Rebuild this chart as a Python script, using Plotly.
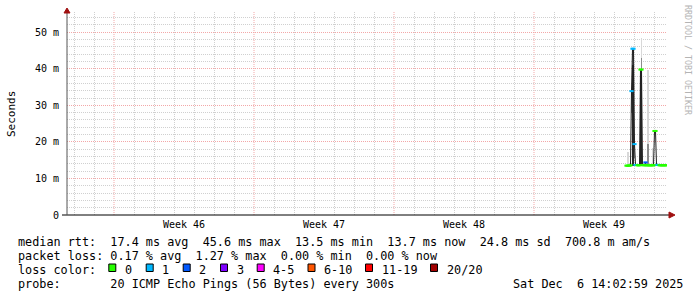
import plotly.graph_objects as go
import pandas as pd

# ---------------- data ----------------
x_start = "2025-11-06 15:36"
x_end = "2025-12-06 15:36"
stamp = "Sat Dec  6 14:02:59 2025"

bin_first = "2025-12-04 15:00"   # centre of first consolidated sample
bin_minutes = 72                  # one sample per 72 minutes

median_ms = [13.5, 13.5, 13.5, 13.5, 13.6, 33.9, 45.5, 45.5, 19.4, 13.7,
             13.7, 13.6, 13.6, 13.6, 39.8, 39.8, 13.7, 13.6, 13.6, 14.4,
             13.6, 13.6, 13.6, 13.6, 13.6, 13.6, 13.6, 13.6, 23.0, 23.0,
             13.7, 13.7, 13.7, 13.6, 13.6, 13.6, 13.6, 13.6, 13.6, 13.6,
             13.6]
lost_pings = [0, 0, 0, 0, 0, 1, 1, 1, 1, 1,
              1, 0, 0, 0, 0, 0, 0, 0, 0, 2,
              0, 0, 0, 0, 0, 0, 0, 0, 0, 0,
              0, 1, 1, 0, 0, 0, 0, 0, 0, 0,
              0]
N = None
smoke_light_lo = [N, 13.4, 13.4, N, N, N, N, N, N, N,
                  N, N, N, N, N, 13.6, N, N, N, N,
                  N, 13.6, 13.6, N, N, N, 13.6, N, N, N,
                  N, N, N, N, N, N, N, N, N, N, N]
smoke_light_hi = [N, 17.3, 17.3, N, N, N, N, N, N, N,
                  N, N, N, N, N, 48.3, N, N, N, N,
                  N, 39.6, 39.6, N, N, N, 18.3, N, N, N,
                  N, N, N, N, N, N, N, N, N, N, N]
smoke_mid_lo = [N, N, N, N, N, 28.0, 41.0, 41.0, 15.5, N,
                N, N, N, N, N, 39.8, N, N, N, N,
                N, 13.6, 13.6, N, N, N, N, N, N, N,
                N, N, N, N, N, N, N, N, N, N, N]
smoke_mid_hi = [N, N, N, N, N, 34.0, 45.5, 45.5, 19.4, N,
                N, N, N, N, N, 43.0, N, N, N, N,
                N, 19.5, 19.5, N, N, N, N, N, N, N,
                N, N, N, N, N, N, N, N, N, N, N]
smoke_core_lo = [N, N, N, N, N, N, 13.5, 13.5, N, N,
                 N, N, N, N, 13.5, 13.5, N, N, N, N,
                 N, N, N, N, N, N, N, N, N, N,
                 N, N, N, N, N, N, N, N, N, N, N]
smoke_core_hi = [N, N, N, N, N, N, 41.0, 41.0, N, N,
                 N, N, N, N, 39.8, 39.8, N, N, N, N,
                 N, N, N, N, N, N, N, N, N, N,
                 N, N, N, N, N, N, N, N, N, N, N]

week_bounds = ["2025-11-09", "2025-11-16", "2025-11-23", "2025-11-30"]
week_label_at = ["2025-11-12 12:00", "2025-11-19 12:00",
                 "2025-11-26 12:00", "2025-12-03 12:00"]
week_labels = ["Week 46", "Week 47", "Week 48", "Week 49"]

y_ticks = [0, 10, 20, 30, 40, 50]
y_ticktext = ["0", "10 m", "20 m", "30 m", "40 m", "50 m"]
y_top = 55.55

loss_labels = ["0", "1", "2", "3", "4-5", "6-10", "11-19", "20/20"]
loss_upper = [0, 1, 2, 3, 5, 10, 19, 20]
loss_colors = ["#26ff00", "#00b8ff", "#0059ff", "#7e00ff",
               "#ff00ff", "#ff5500", "#ff0000", "#a00000"]

legend_lines = [
    "median rtt:  17.4 ms avg  45.6 ms max  13.5 ms min  13.7 ms now  24.8 ms sd  700.8 m am/s",
    "packet loss: 0.17 % avg  1.27 % max  0.00 % min  0.00 % now",
    "loss color:",
    "probe:       20 ICMP Echo Pings (56 Bytes) every 300s",
]

# ---------------- geometry helpers (layout only) ----------------
W, H = 697, 297
L, R, T, B = 67, 667, 12, 215
PW, PH = R - L, B - T


def px(xp):
    return (xp - L) / PW


def py(yp):
    return (B - yp) / PH


def nb(s):
    return s.replace(" ", "\u00a0")


MONO = "DejaVu Sans Mono"
GRID_MINOR = "#d0d0d0"
GRID_MAJOR = "#f3a8a8"
DOT = "1px,1px"

times = pd.date_range(start=bin_first, periods=len(median_ms),
                      freq=f"{bin_minutes}min")
bw = bin_minutes * 60 * 1000

# minor grid positions (skip the major ones)
day_grid = [d for d in pd.date_range(x_start, x_end, freq="D").normalize()
            if d.strftime("%Y-%m-%d") not in week_bounds]
y_minor = [v for v in range(2, 56, 2) if v % 10 != 0]


def loss_color(n):
    for up, c in zip(loss_upper, loss_colors):
        if n <= up:
            return c
    return loss_colors[-1]


def band(lo, hi, color):
    xs, bs, hs = [], [], []
    for t, a, b in zip(times, lo, hi):
        if a is not None and b is not None:
            xs.append(t)
            bs.append(a)
            hs.append(b - a)
    return go.Bar(x=xs, y=hs, base=bs, width=bw, marker=dict(color=color, line=dict(width=0)),
                  hoverinfo="skip", showlegend=False)


fig = go.Figure()
fig.add_trace(band(smoke_light_lo, smoke_light_hi, "#d8d8d8"))
fig.add_trace(band(smoke_mid_lo, smoke_mid_hi, "#8c8c8c"))
fig.add_trace(band(smoke_core_lo, smoke_core_hi, "#262626"))

fig.add_trace(go.Scatter(x=times, y=median_ms, mode="lines",
                         line=dict(color="#202020", width=1),
                         hoverinfo="skip", showlegend=False))

cols = [loss_color(n) for n in lost_pings]
fig.add_trace(go.Scatter(x=times, y=median_ms, mode="markers",
                         marker=dict(symbol="line-ew", size=3,
                                     line=dict(color=cols, width=2)),
                         hoverinfo="skip", showlegend=False))

shapes = []
# weekly major grid lines (red dotted)
for wb in week_bounds:
    shapes.append(dict(type="line", xref="x", yref="paper", x0=wb, x1=wb, y0=0, y1=1,
                       line=dict(color=GRID_MAJOR, width=1, dash=DOT), layer="below"))
# axis lines and arrows
shapes.append(dict(type="line", xref="paper", yref="paper", x0=px(62), x1=px(670), y0=0, y1=0,
                   line=dict(color="#000000", width=1)))
shapes.append(dict(type="line", xref="paper", yref="paper", x0=0, x1=0, y0=0, y1=py(12),
                   line=dict(color="#555555", width=1)))
shapes.append(dict(type="path", xref="paper", yref="paper",
                   path=f"M {px(669)} {py(212)} L {px(675)} {py(215)} L {px(669)} {py(218)} Z",
                   fillcolor="#a01010", line=dict(color="#a01010", width=1)))
shapes.append(dict(type="path", xref="paper", yref="paper",
                   path=f"M {px(64)} {py(13)} L {px(67)} {py(8)} L {px(70)} {py(13)} Z",
                   fillcolor="#a01010", line=dict(color="#a01010", width=1)))

annotations = []
LEG_FONT = dict(family=MONO, size=11.8, color="#000000")
line_y = [241.5, 255.5, 269.5, 283.5]
for txt, yy in zip(legend_lines, line_y):
    annotations.append(dict(text=nb(txt), xref="paper", yref="paper", x=px(16), y=py(yy),
                            xanchor="left", yanchor="middle", showarrow=False, font=LEG_FONT))
annotations.append(dict(text=nb(stamp), xref="paper", yref="paper", x=px(685), y=py(283.5),
                        xanchor="right", yanchor="middle", showarrow=False, font=LEG_FONT))

box_left = [108.3, 145.7, 182.7, 220.0, 256.7, 307.5, 365.0, 430.0]
for bl, lab, col in zip(box_left, loss_labels, loss_colors):
    shapes.append(dict(type="rect", xref="paper", yref="paper",
                       x0=px(bl + 0.5), x1=px(bl + 7.5), y0=py(271.5), y1=py(264),
                       fillcolor=col, line=dict(color="#000000", width=1)))
    annotations.append(dict(text=nb(lab), xref="paper", yref="paper", x=px(bl + 14.5), y=py(269.5),
                            xanchor="left", yanchor="middle", showarrow=False, font=LEG_FONT))

annotations.append(dict(text="Seconds", xref="paper", yref="paper", x=px(11), y=py(114),
                        textangle=-90, xanchor="center", yanchor="middle", showarrow=False,
                        font=dict(family=MONO, size=11, color="#000000")))
annotations.append(dict(text=nb("RRDTOOL / TOBI OETIKER"), xref="paper", yref="paper",
                        x=px(688), y=py(60), textangle=90, xanchor="center", yanchor="middle",
                        showarrow=False, font=dict(family=MONO, size=8.3, color="#b4b4b4")))

fig.update_layout(
    width=W, height=H,
    margin=dict(l=L, r=W - R, t=T, b=H - B, pad=0),
    paper_bgcolor="#ffffff", plot_bgcolor="#ffffff",
    barmode="overlay", bargap=0,
    showlegend=False,
    shapes=shapes, annotations=annotations,
    xaxis=dict(type="date", range=[x_start, x_end], fixedrange=True,
               tickmode="array", tickvals=week_label_at, ticktext=week_labels,
               ticks="", showgrid=False, zeroline=False, showline=False,
               tickfont=dict(family=MONO, size=10, color="#000000"),
               ticklabelstandoff=2,
               minor=dict(tickmode="array", tickvals=day_grid, showgrid=True,
                          gridcolor=GRID_MINOR, griddash=DOT, gridwidth=1, ticks="")),
    yaxis=dict(range=[0, y_top], fixedrange=True,
               tickmode="array", tickvals=y_ticks, ticktext=y_ticktext,
               ticks="", showgrid=True, gridcolor=GRID_MAJOR, griddash=DOT, gridwidth=1,
               zeroline=False, showline=False, ticklabelstandoff=7,
               tickfont=dict(family=MONO, size=10, color="#000000"),
               minor=dict(tickmode="array", tickvals=y_minor, showgrid=True,
                          gridcolor=GRID_MINOR, griddash=DOT, gridwidth=1, ticks="")),
)

fig.write_html("out.html")
